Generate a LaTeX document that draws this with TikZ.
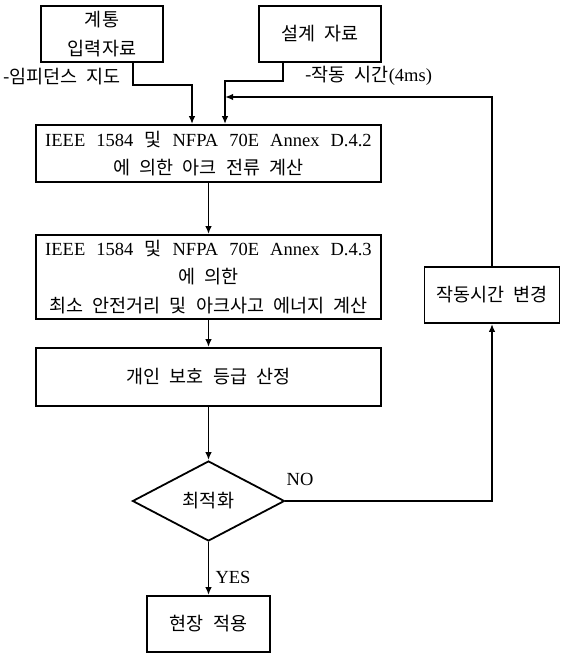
\documentclass[tikz,border=0pt]{standalone}
\usepackage{fontspec}
\setmainfont{Liberation Serif}[WordSpace={2.4}]
\newfontfamily\kr{Noto Sans CJK KR}[WordSpace={2.2}]
\usetikzlibrary{arrows.meta,shapes.geometric}
\tikzset{
  box/.style={draw, line width=1.8pt, inner sep=0pt, align=center, font=\fontsize{18.5}{28.5}\selectfont},
  krbox/.style={box, font=\fontsize{18.5}{28.5}\selectfont\kr},
  decision/.style={draw, diamond, line width=1.8pt, inner sep=0pt, aspect=1.9, minimum width=152pt, minimum height=80pt, font=\fontsize{18.5}{28}\selectfont\kr},
  conn/.style={line width=1.8pt, -{Latex[length=8pt,width=6.5pt]}},
  lbl/.style={inner sep=0pt, font=\fontsize{18.5}{20}\selectfont}
}
\begin{document}
\begin{tikzpicture}[x=1pt,y=-1pt]
\useasboundingbox[fill=white] (0,0) rectangle (566,655);
\node[krbox, minimum width=122pt, minimum height=56pt] (b1) at (102,34) {계통\\입력자료};
\node[krbox, minimum width=122pt, minimum height=56pt] (b2) at (320,34) {설계 자료};
\node[box, minimum width=345pt, minimum height=57pt] (b3) at (208.5,153.5) {IEEE 1584 {\kr 및} NFPA 70E Annex D.4.2\\{\kr 에 의한 아크 전류 계산}};
\node[box, minimum width=345pt, minimum height=84pt] (b4) at (208.5,277) {IEEE 1584 {\kr 및} NFPA 70E Annex D.4.3\\{\kr 에 의한}\\{\kr 최소 안전거리 및 아크사고 에너지 계산}};
\node[krbox, minimum width=345pt, minimum height=58pt] (b5) at (208.5,377) {개인 보호 등급 산정};
\node[decision] (d) at (208.5,501) {최적화};
\node[krbox, minimum width=123pt, minimum height=56pt] (b6) at (208.5,624) {현장 적용};
\node[krbox, minimum width=135pt, minimum height=56pt] (b7) at (492,295) {작동시간 변경};
\node[lbl, anchor=west] (l1) at (3,77) {\kr -임피던스 지도};
\node[lbl, anchor=west] (l2) at (305,76) {{\kr -작동 시간}(4ms)};
\node[lbl] (no) at (300,479) {NO};
\node[lbl] (yes) at (233,577) {YES};
\coordinate (fb) at (225,97);
\draw[conn] ([xshift=31pt]b1.south) -- ++(0,22) -| ([xshift=-16.5pt]b3.north);
\draw[conn] ([xshift=-37pt]b2.south) -- ++(0,18) -| ([xshift=16.5pt]b3.north);
\draw[conn] (b7.north) |- (fb);
\draw[conn] (b3) -- (b4);
\draw[conn] (b4) -- (b5);
\draw[conn] (b5) -- (d);
\draw[conn] (d) -- (b6);
\draw[conn] (d.east) -| (b7.south);
\end{tikzpicture}
\end{document}
